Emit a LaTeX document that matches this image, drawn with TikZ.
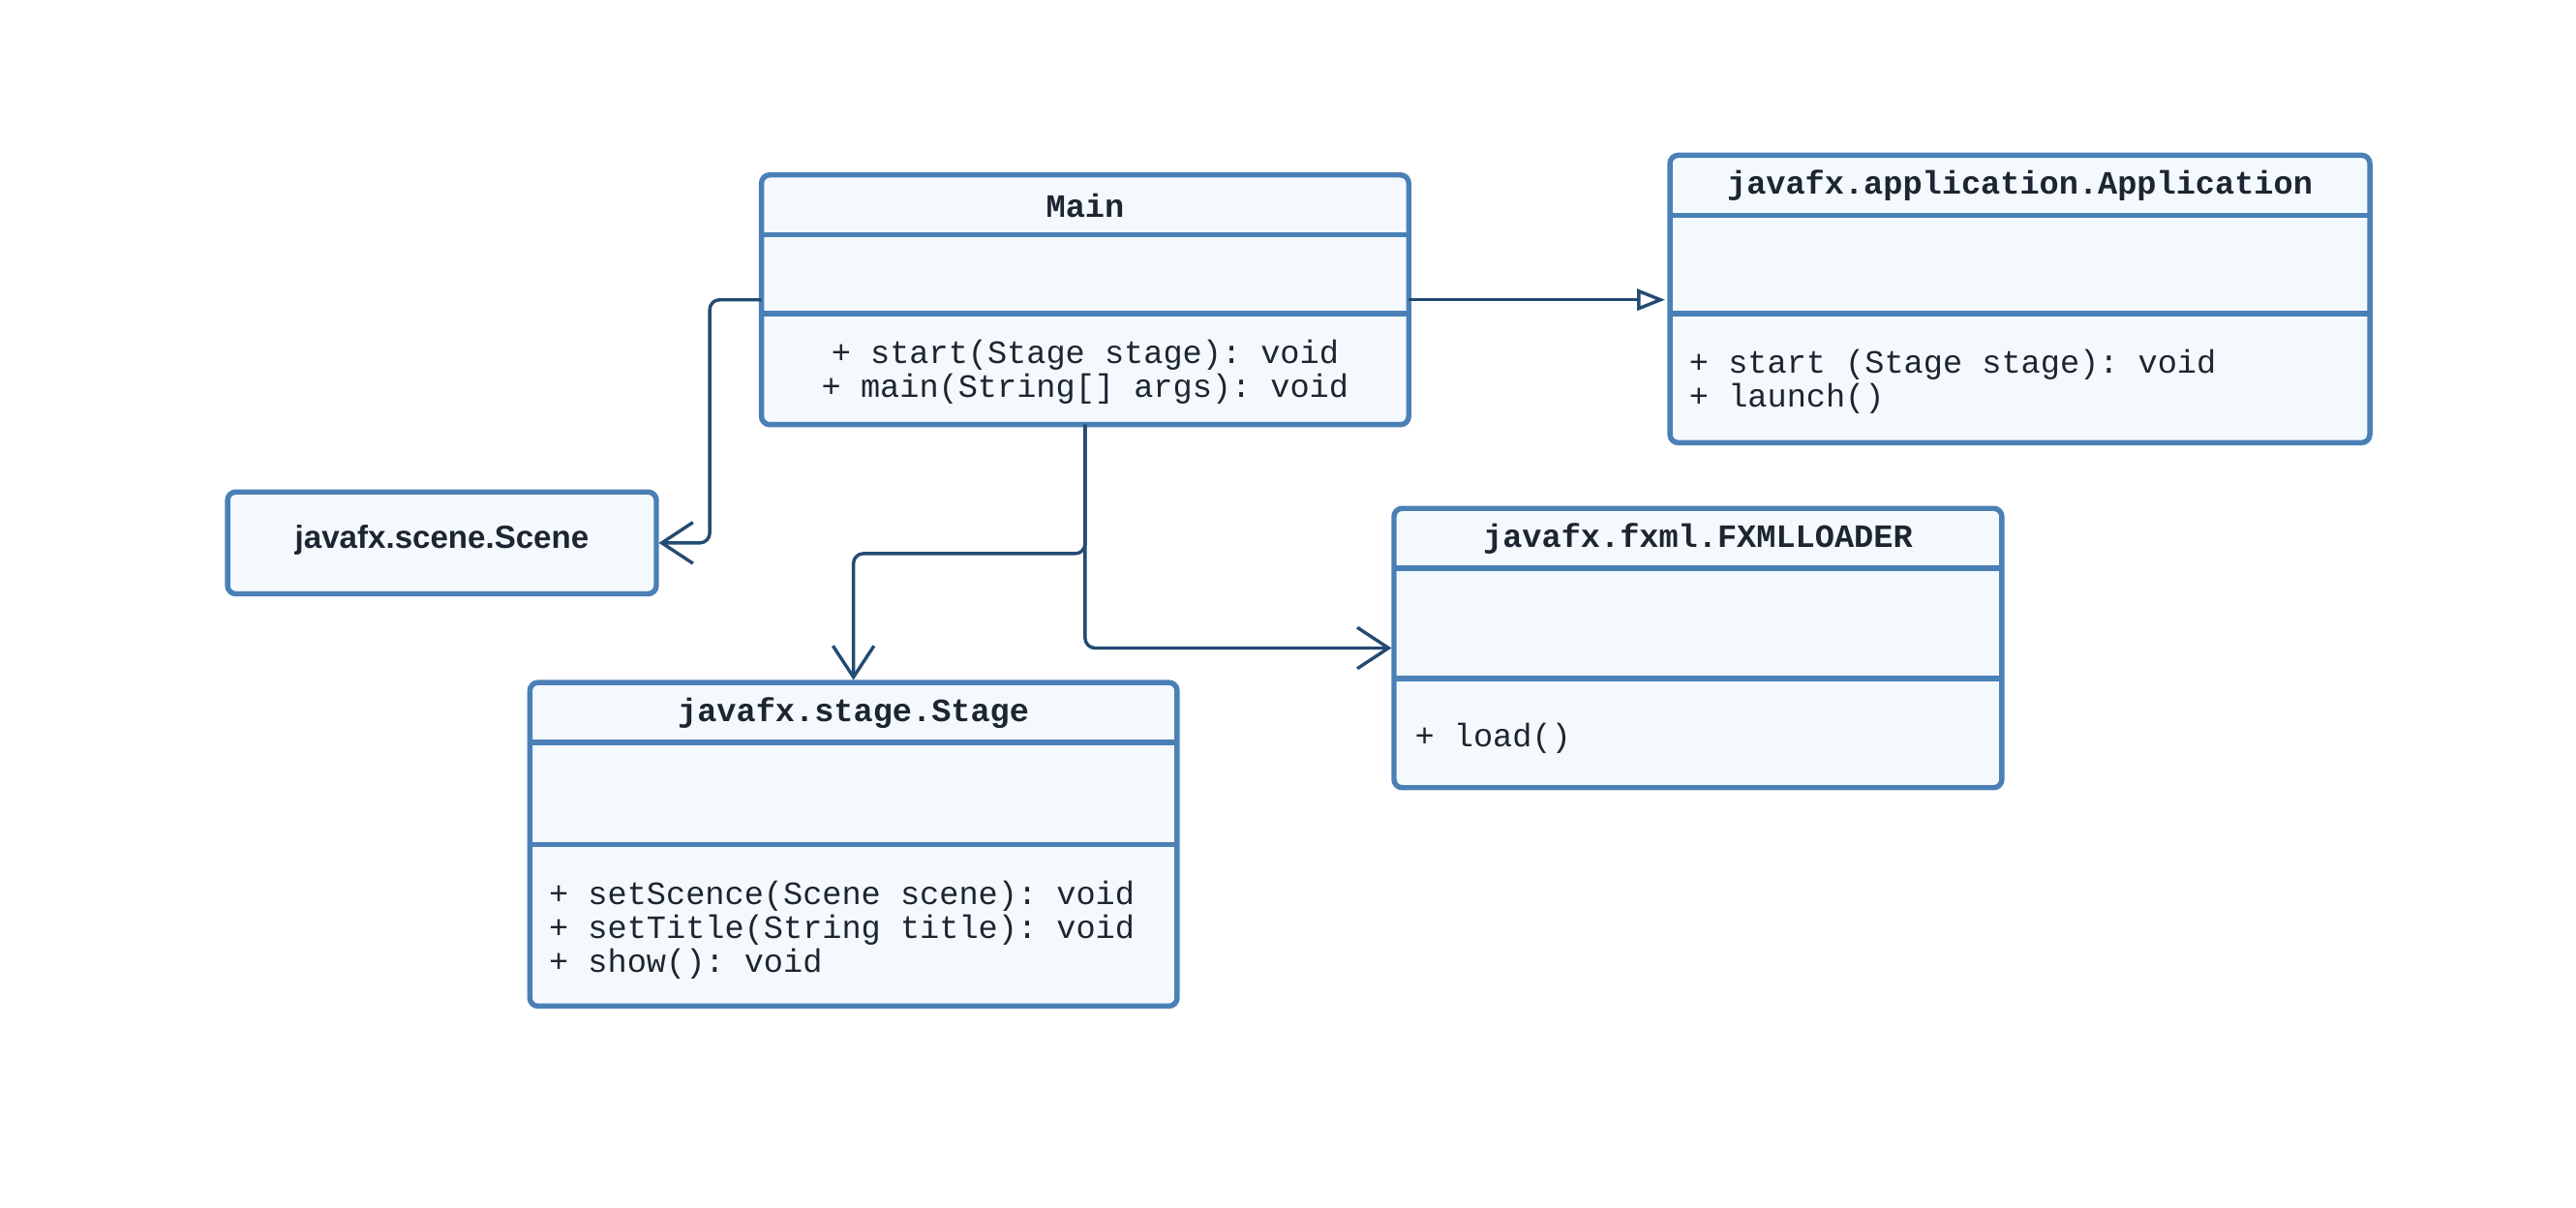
\documentclass[tikz,border=0pt]{standalone}
\usepackage{fontspec}
\setmainfont{Liberation Sans}
\setsansfont{Liberation Sans}
\setmonofont{Liberation Mono}
\usetikzlibrary{arrows.meta}
\definecolor{bord}{HTML}{4A80B5}
\definecolor{boxfill}{HTML}{F4F9FE}
\definecolor{conn}{HTML}{234B73}
\definecolor{ink}{HTML}{1C2530}
\begin{document}
\begin{tikzpicture}[x=1pt,y=-1pt,
  umlbox/.style={draw=bord, fill=boxfill, line width=3.2pt, rounded corners=5pt, inner sep=0pt, outer sep=0pt},
  divider/.style={draw=bord, line width=3.2pt},
  ctitle/.style={font=\fontsize{19.8}{20}\selectfont\ttfamily\bfseries, text=ink, inner sep=0pt},
  ops/.style={font=\fontsize{19.8}{20.5}\selectfont\ttfamily, text=ink, inner sep=0pt},
  assoc/.style={draw=conn, line width=2pt, rounded corners=6pt, shorten >=1.5pt, -{Straight Barb[length=19pt, width=25pt, line width=2pt]}},
  gen/.style={draw=conn, line width=2pt, shorten >=3pt, -{Triangle[open, length=17pt, width=13pt, line width=2pt, fill=white]}}
]
\fill[white] (0,0) rectangle (1568,735);
\useasboundingbox (0,0) rectangle (1568,735);

% Main
\node[umlbox, minimum width=394, minimum height=152] (main) at (660.5,182.5) {};
\draw[divider] (main.west |- 0,143) -- (main.east |- 0,143);
\draw[divider] (main.west |- 0,191) -- (main.east |- 0,191);
\node[ctitle] (maint) at (660.5,125) {Main};
\node[ops, align=center] (mainops) at (660.5,226.5) {+ start(Stage stage): void\\+ main(String[] args): void};

% Application
\node[umlbox, minimum width=426, minimum height=175] (app) at (1229.5,182) {};
\draw[divider] (app.west |- 0,131) -- (app.east |- 0,131);
\draw[divider] (app.west |- 0,191) -- (app.east |- 0,191);
\node[ctitle] (appt) at (1229.5,113) {javafx.application.Application};
\node[ops, align=left, anchor=west] (appops) at (1028,232.5) {+ start (Stage stage): void\\+ launch()};

% Scene
\node[umlbox, minimum width=261, minimum height=62] (scene) at (269,330.5) {};
\node[font=\fontsize{19.5}{20}\selectfont\sffamily\bfseries, text=ink, inner sep=0pt] (scenet) at (269,329) {javafx.scene.Scene};

% Stage
\node[umlbox, minimum width=394, minimum height=197] (stage) at (519.5,514) {};
\draw[divider] (stage.west |- 0,452) -- (stage.east |- 0,452);
\draw[divider] (stage.west |- 0,514) -- (stage.east |- 0,514);
\node[ctitle] (staget) at (519.5,434) {javafx.stage.Stage};
\node[ops, align=left, anchor=west] (stageops) at (334,566) {+ setScence(Scene scene): void\\+ setTitle(String title): void\\+ show(): void};

% FXMLLOADER
\node[umlbox, minimum width=370, minimum height=170] (fx) at (1033.5,394.5) {};
\draw[divider] (fx.west |- 0,346) -- (fx.east |- 0,346);
\draw[divider] (fx.west |- 0,413) -- (fx.east |- 0,413);
\node[ctitle] (fxt) at (1033.5,328) {javafx.fxml.FXMLLOADER};
\node[ops, align=left, anchor=west] (fxops) at (861,449.5) {+ load()};

% connectors
\draw[gen] (main.east) -- (app.west |- main.east);
\coordinate (sj) at (432,0);
\draw[assoc] (main.west) -| (sj |- scene.east) -- (scene.east);
\coordinate (tj) at (0,337);
\draw[assoc] (main.south) -- (main.south |- tj) -| (stage.north);
\draw[assoc] (main.south) |- (fx.west);
\end{tikzpicture}
\end{document}
